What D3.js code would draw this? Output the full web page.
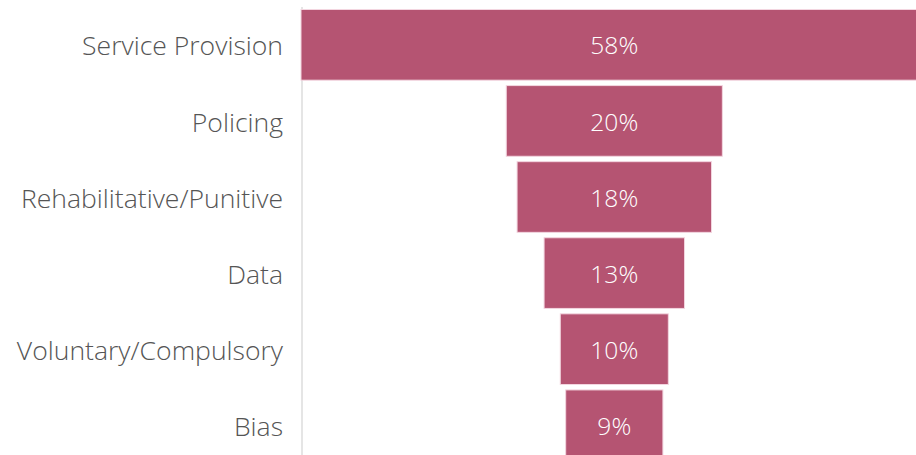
<!DOCTYPE html>
<html>
<head>
<meta charset="utf-8">
<script src="https://cdn.jsdelivr.net/npm/d3@7"></script>
<style>
  html, body { margin: 0; padding: 0; background: #fff; overflow: hidden; }
  svg { display: block; }
</style>
</head>
<body>
<div id="chart"></div>
<script>
const categories = ["Service Provision", "Policing", "Rehabilitative/Punitive", "Data", "Voluntary/Compulsory", "Bias"];
const values = [58, 20, 18, 13, 10, 9];
const valueLabels = ["58%", "20%", "18%", "13%", "10%", "9%"];

const W = 916, H = 455;
const plotLeft = 301, plotRight = 927.6;
const center = (plotLeft + plotRight) / 2;

const svg = d3.select("#chart").append("svg").attr("width", W).attr("height", H);

const x = d3.scaleLinear().domain([0, d3.max(values)]).range([0, plotRight - plotLeft]);
const y = d3.scaleBand().domain(categories).range([4.1, 466]).padding(0.071);

const FONT = "'Open Sans', 'DejaVu Sans', sans-serif";

// axis line
svg.append("line")
  .attr("x1", 302).attr("x2", 302)
  .attr("y1", 7).attr("y2", H)
  .attr("stroke", "#dcdcdc").attr("stroke-width", 1.5);

// bars
svg.selectAll("rect.bar").data(categories).join("rect")
  .attr("class", "bar")
  .attr("x", (d, i) => center - x(values[i]) / 2)
  .attr("y", d => y(d))
  .attr("width", (d, i) => x(values[i]))
  .attr("height", y.bandwidth())
  .attr("fill", "#b55472")
  .attr("stroke", "#f3d6e0")
  .attr("stroke-width", 1);

// value labels
const vals = svg.selectAll("text.val").data(categories).join("text")
  .attr("class", "val")
  .attr("x", center)
  .attr("y", d => y(d) + y.bandwidth() / 2 + 1)
  .attr("dy", "0.35em")
  .attr("text-anchor", "middle")
  .attr("font-family", FONT)
  .attr("font-weight", 300)
  .attr("font-size", 20)
  .attr("fill", "#ffffff")
  .text((d, i) => valueLabels[i]);

// category labels via axis
const yAxis = d3.axisLeft(y).tickSize(0).tickPadding(0);
const ag = svg.append("g").attr("transform", "translate(283,0)").call(yAxis);
ag.select(".domain").remove();
const labs = ag.selectAll("text")
  .attr("font-family", FONT)
  .attr("font-weight", 300)
  .attr("font-size", 20)
  .attr("fill", "#555555")
  .attr("dy", "0.4em");

// fit font sizes to reference text widths
function fit(sel, idx, target) {
  const node = sel.nodes()[idx];
  const w = node.getComputedTextLength();
  const fs = 20 * target / w;
  sel.attr("font-size", fs);
}
fit(labs, 0, 201);
fit(vals, 0, 48);
</script>
</body>
</html>
